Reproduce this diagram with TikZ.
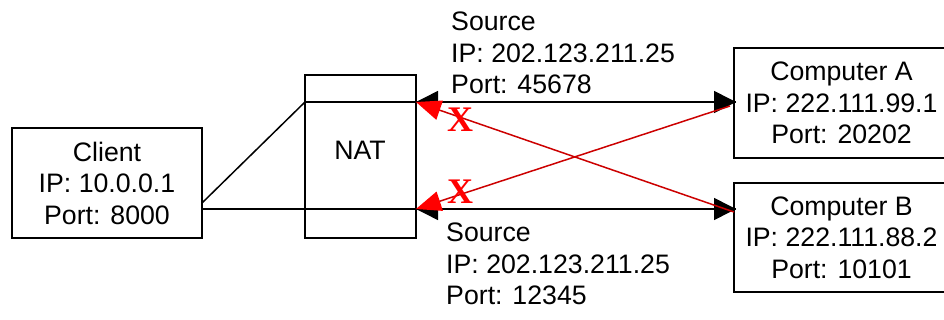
\documentclass[tikz,border=0pt]{standalone}
\usepackage{fontspec}
\setmainfont{Liberation Sans}
\newfontfamily\xfont{Liberation Serif}
\usetikzlibrary{arrows.meta}
\begin{document}
\begin{tikzpicture}[x=1pt,y=-1pt,
  txt/.style={font=\fontsize{26.7}{31.5}\selectfont},
  box/.style={txt, draw, line width=2.5pt, rectangle, align=center, inner sep=0pt},
  natbox/.style={txt, draw, line width=1.5pt, rectangle, inner sep=0pt},
  lbl/.style={txt, align=left, inner sep=0pt, anchor=north west},
  conn/.style={line width=1.5pt},
  blk/.style={-{Triangle[length=22pt,width=22pt]}},
  redc/.style={draw=red!80!black, line width=1.5pt, -{Triangle[length=25pt,width=20pt,color=red]}},
  xmark/.style={text=red, inner sep=0pt, font=\xfont\bfseries\fontsize{36}{36}\selectfont}
]
\useasboundingbox (0,0) rectangle (944,320);
\clip (0,0) rectangle (944,320);
\fill[white] (0,0) rectangle (944,320);

\node[box, minimum width=190pt, minimum height=110pt] (client) at (107,183) {Client\\IP: 10.0.0.1\\Port: 8000};
\node[natbox, minimum width=111pt, minimum height=163pt] (nat) at (360.5,156.5) {};
\node[txt, inner sep=0pt] (natlbl) at (360,150) {NAT};
\node[box, minimum width=212pt, minimum height=110pt] (compA) at (840,103) {\hspace*{3pt}Computer A\\\hspace*{3pt}IP: 222.111.99.1\\\hspace*{3pt}Port: 20202};
\node[box, minimum width=212pt, minimum height=109pt] (compB) at (840,237.5) {\hspace*{3pt}Computer B\\\hspace*{3pt}IP: 222.111.88.2\\\hspace*{3pt}Port: 10101};

\node[lbl] (srcA) at (451,12) {Source\\IP: 202.123.211.25\\Port: 45678};
\node[lbl] (srcB) at (446,223) {Source\\IP: 202.123.211.25\\Port: 12345};

\coordinate (cd) at (202,203);
\coordinate (ntl) at (305,102);
\coordinate (ntr) at (416,102);
\coordinate (nbr) at (416,209);
\coordinate (aw) at (736,102);
\coordinate (bw) at (736,209);
\coordinate (cw) at (202,209);
\coordinate (ar) at (730,106);
\coordinate (br) at (734,212);

\draw[conn] (cd) -- (ntl);
\draw[conn, blk] (ntl) -- (aw);
\draw[conn, blk] (aw) -- (ntr);
\draw[conn, blk] (cw) -- (bw);
\draw[conn, blk] (bw) -- (nbr);
\draw[redc] (ar) -- (nbr);
\draw[redc] (br) -- (ntr);

\node[xmark] (x1) at (460,120) {X};
\node[xmark] (x2) at (460,192) {X};
\end{tikzpicture}
\end{document}
